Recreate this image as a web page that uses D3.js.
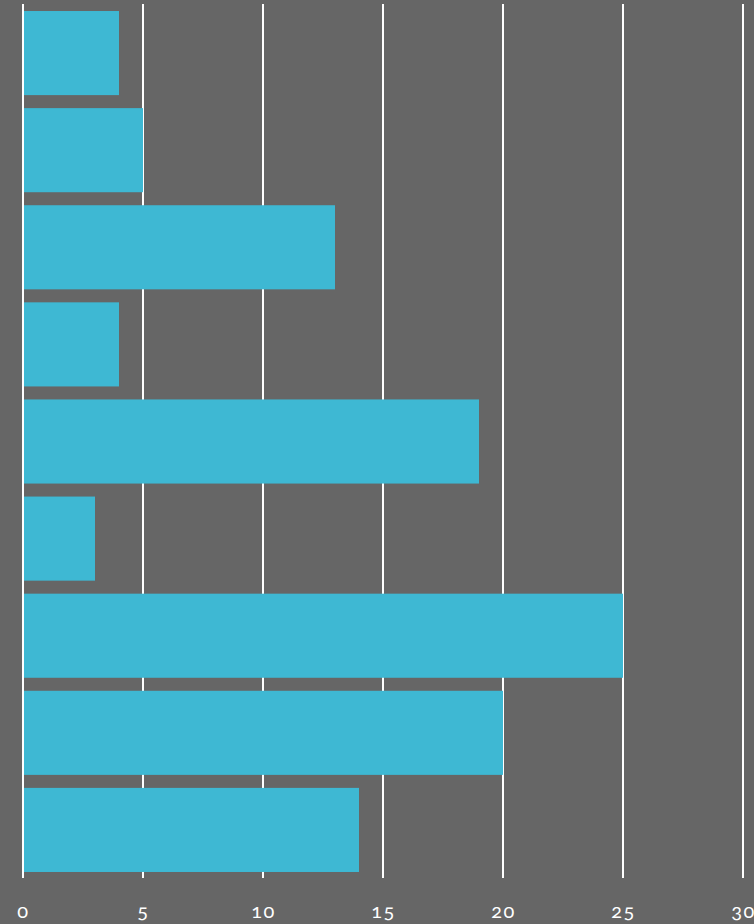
<!DOCTYPE html>
<html><head><meta charset="utf-8">
<script src="https://cdn.jsdelivr.net/npm/d3@7"></script>
<style>
html,body{margin:0;padding:0;background:#666666;}
svg{display:block;}
.tick text{font-family:Lato,"Open Sans",sans-serif;font-feature-settings:"onum" 1;font-variant-numeric:oldstyle-nums;letter-spacing:1.5px;}
</style></head>
<body>
<svg id="chart" width="754" height="924"></svg>
<script>
const categories = ["A","B","C","D","E","F","G","H","I"];
const values = [4, 5, 13, 4, 19, 3, 25, 20, 14];
const xTicks = [0, 5, 10, 15, 20, 25, 30];

const W = 754, H = 924;
const svg = d3.select("#chart");
svg.append("rect").attr("width", W).attr("height", H).attr("fill", "#666666");

const x = d3.scaleLinear().domain([0, 30]).range([23, 743]);
const y = d3.scaleBand().domain(categories).range([4.5, 878.5]).paddingInner(0.134).paddingOuter(0.067);

// gridlines
svg.append("g").selectAll("line").data(xTicks).join("line")
  .attr("x1", d => x(d)).attr("x2", d => x(d))
  .attr("y1", 4).attr("y2", 878)
  .attr("stroke", "#ffffff").attr("stroke-width", 2);

// bars
svg.append("g").selectAll("rect").data(values).join("rect")
  .attr("x", x(0) + 1)
  .attr("y", (d, i) => y(categories[i]))
  .attr("width", d => x(d) - x(0) - 1)
  .attr("height", y.bandwidth())
  .attr("fill", "#3eb8d3");

// axis
const axis = d3.axisBottom(x).tickValues(xTicks).tickSize(0).tickPadding(0);
const g = svg.append("g").attr("transform", "translate(0,898)").call(axis);
g.select(".domain").remove();
g.selectAll(".tick text").attr("fill", "#ffffff").attr("font-size", 20).attr("dy", "1em");
</script>
</body></html>
